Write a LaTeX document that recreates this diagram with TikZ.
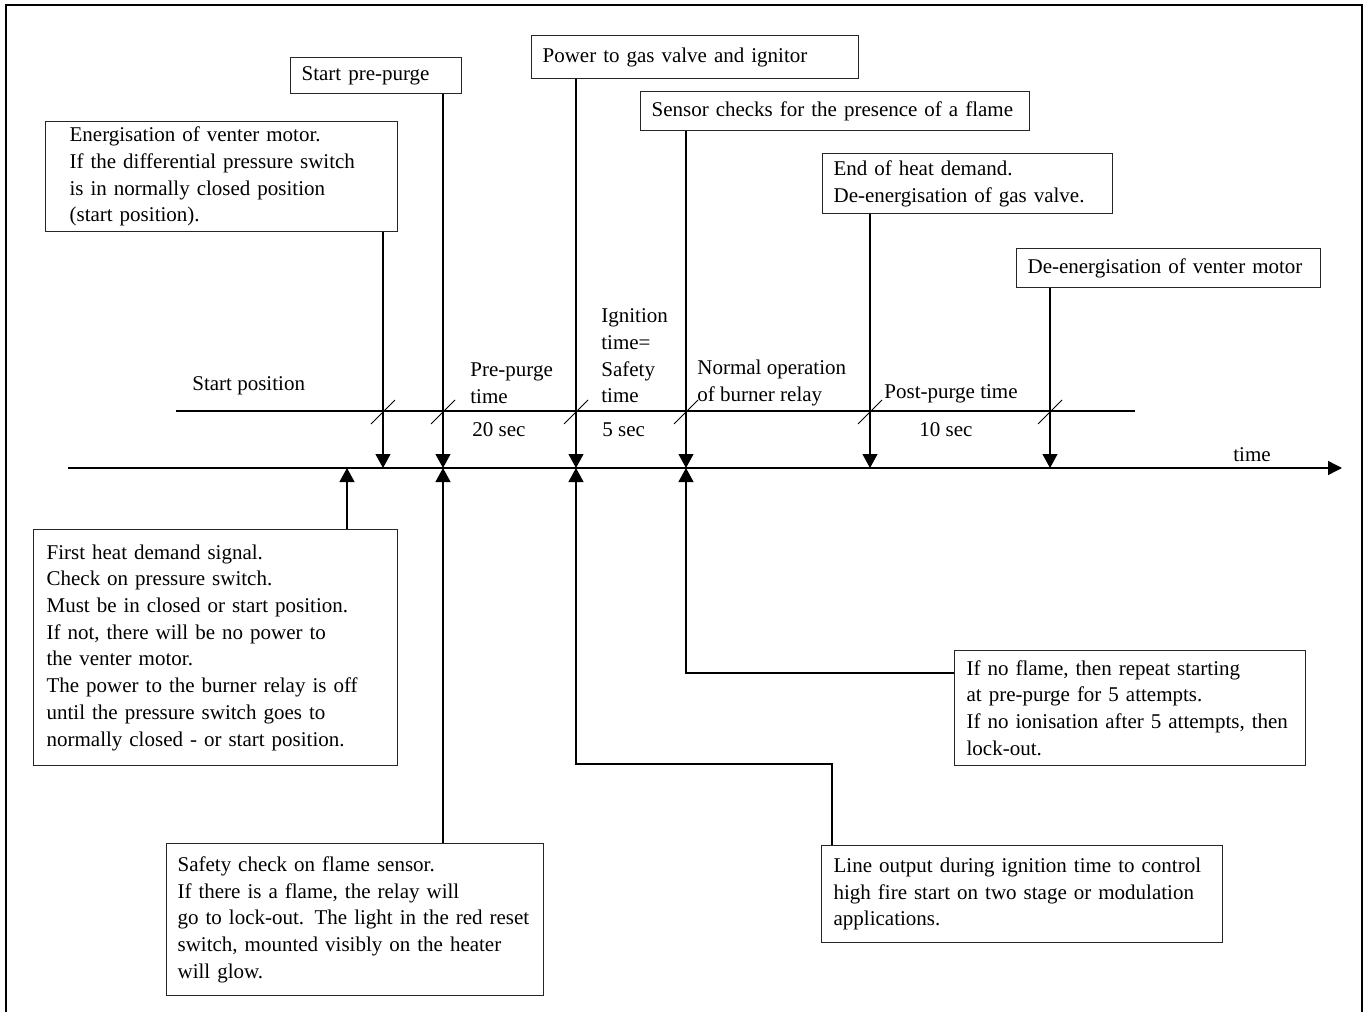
\documentclass[tikz,border=0pt]{standalone}
\usepackage{fontspec}
\setmainfont{Liberation Serif}
\usetikzlibrary{arrows.meta, positioning}

\begin{document}
\begin{tikzpicture}[x=0.5pt, y=-0.5pt,
    txt/.style={font=\fontsize{10.5pt}{13.35pt}\selectfont},
    note/.style={txt, draw=black!85, line width=0.6pt, anchor=north west, align=left, inner xsep=5.5pt, inner ysep=0pt},
    lbl/.style={txt, anchor=west, align=left, inner sep=0pt},
    arr/.style={line width=0.6pt, -{Triangle[length=7pt, width=7.5pt]}},
    tick/.style={line width=0.5pt}]

    \useasboundingbox (0,0) rectangle (1367,1012);
    \draw[line width=1pt] (6,1012) -- (6,5) -- (1362,5) -- (1362,1012);

    % boxes above the time line
    \node[note, text width=74.5pt, minimum height=18pt] (prepurge) at (290,57) {Start pre-purge};
    \node[note, inner xsep=12pt, text width=152pt, minimum height=55pt] (energ) at (45,121) {Energisation of venter motor.\\If the differential pressure switch\\is in normally closed position\\(start position).};
    \node[note, text width=152.5pt, minimum height=21.5pt] (power) at (531,35) {Power to gas valve and ignitor};
    \node[note, text width=183.5pt, minimum height=19.5pt] (sensor) at (640,91) {Sensor checks for the presence of a flame};
    \node[note, text width=134pt, minimum height=30pt] (endheat) at (822,153) {End of heat demand.\\De-energisation of gas valve.};
    \node[note, text width=141pt, minimum height=19.5pt] (deenerg) at (1016,248) {De-energisation of venter motor};

    % boxes below the time line
    \node[note, inner xsep=6.5pt, text width=169pt, minimum height=118pt] (firstheat) at (33,529) {First heat demand signal.\\Check on pressure switch.\\Must be in closed or start position.\\If not, there will be no power to\\the venter motor.\\The power to the burner relay is off\\until the pressure switch goes to\\normally closed - or start position.};
    \node[note, text width=177.5pt, minimum height=76pt] (safety) at (166,843) {Safety check on flame sensor.\\If there is a flame, the relay will\\go to lock-out. The light in the red reset\\switch, mounted visibly on the heater\\will glow.};
    \node[note, inner xsep=6pt, text width=163.5pt, minimum height=57.5pt] (noflame) at (954,650) {If no flame, then repeat starting\\at pre-purge for 5 attempts.\\If no ionisation after 5 attempts, then\\lock-out.};
    \node[note, inner xsep=6pt, text width=188.5pt, minimum height=48.5pt] (lineout) at (821,845) {Line output during ignition time to control\\high fire start on two stage or modulation\\applications.};

    % time line and phase line
    \coordinate (axl) at (68,468);
    \coordinate (axr) at (1342,468);
    \coordinate (phl) at (176,411);
    \coordinate (phr) at (1135,411);
    \draw[line width=0.7pt, -{Triangle[length=7pt, width=7pt]}] (axl) -- (axr);
    \draw[line width=0.6pt] (phl) -- (phr);
    \foreach \x in {383,443,576,686,870,1050}
        \draw[tick] (\x-12,424) -- (\x+12,400);

    \coordinate (t0) at (347,468);
    \coordinate (t1) at (383,468);
    \coordinate (t2) at (443,468);
    \coordinate (t3) at (576,468);
    \coordinate (t4) at (686,468);
    \coordinate (t5) at (870,468);
    \coordinate (t6) at (1050,468);

    \node[lbl] (startpos) at (192,386) {Start position};
    \node[lbl] (pptime) at (470,383) {Pre-purge\\time};
    \node[lbl] (ppsec) at (472,430) {20 sec};
    \node[lbl] (igtime) at (601,356) {Ignition\\time=\\Safety\\time};
    \node[lbl] (igsec) at (602,430) {5 sec};
    \node[lbl] (normal) at (697,383) {Normal operation\\of burner relay};
    \node[lbl] (post) at (884,394) {Post-purge time};
    \node[lbl] (postsec) at (919,430) {10 sec};
    \node[lbl] (timelbl) at (1233,455) {time};

    \draw[arr] (energ.south -| t1) -- (t1);
    \draw[arr] (prepurge.south -| t2) -- (t2);
    \draw[arr] (power.south -| t3) -- (t3);
    \draw[arr] (sensor.south -| t4) -- (t4);
    \draw[arr] (endheat.south -| t5) -- (t5);
    \draw[arr] (deenerg.south -| t6) -- (t6);

    \draw[arr] (firstheat.north -| t0) -- (t0);
    \draw[arr] (safety.north -| t2) -- (t2);
    \draw[arr] ([xshift=5.5pt]lineout.north west) -- ++(0,-81) -| (t3);
    \draw[arr] ([yshift=-11.5pt]noflame.north west) -| (t4);
\end{tikzpicture}
\end{document}
